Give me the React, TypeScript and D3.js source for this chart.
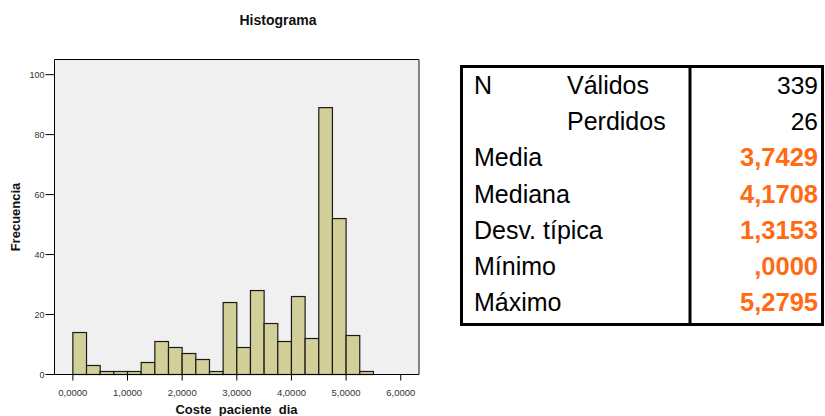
import React from "react";
import * as d3 from "d3";

const binStarts = [0, 0.25, 0.5, 0.75, 1, 1.25, 1.5, 1.75, 2, 2.25, 2.5, 2.75, 3, 3.25, 3.5, 3.75, 4, 4.25, 4.5, 4.75, 5, 5.25];
const frequencies = [14, 3, 1, 1, 1, 4, 11, 9, 7, 5, 1, 24, 9, 28, 17, 11, 26, 12, 89, 52, 13, 1];
const binWidth = 0.25;
const xTicks = [0, 1, 2, 3, 4, 5, 6];
const yTicks = [0, 20, 40, 60, 80, 100];

const statLabels1 = ["N", "", "Media", "Mediana", "Desv. típica", "Mínimo", "Máximo"];
const statLabels2 = ["Válidos", "Perdidos", "", "", "", "", ""];
const statValues = ["339", "26", "3,7429", "4,1708", "1,3153", ",0000", "5,2795"];
const statHighlight = [false, false, true, true, true, true, true];

export default function App() {
  const W = 825, H = 416;
  const left = 54.5, right = 419, top = 59.5, bottom = 374.5;
  const x = d3.scaleLinear().domain([-0.336, 6.334]).range([left, right]);
  const y = d3.scaleLinear().domain([0, 105.05]).range([bottom, top]);
  const fmt = (v: number) => d3.format(".4f")(v).replace(".", ",");

  const rowY = d3.scaleLinear().domain([0, 6]).range([85, 302]);

  return (
    <svg width={W} height={H} style={{ position: "absolute", left: 0, top: 0, fontFamily: "'Liberation Sans', Arial, sans-serif" }}>
      <rect x={0} y={0} width={W} height={H} fill="#fff" />
      <text x={278} y={20} textAnchor="middle" dominantBaseline="central" fontSize={14} fontWeight="bold" fill="#111">Histograma</text>
      <rect x={left} y={top} width={right - left} height={bottom - top} fill="#F0F0F0" stroke="none" />
      {binStarts.map((b, i) => (
        <rect key={i} x={x(b)} y={y(frequencies[i])} width={x(b + binWidth) - x(b)} height={bottom - y(frequencies[i])}
          fill="#D3CF99" stroke="#1a1a1a" strokeWidth={1.2} />
      ))}
      <line x1={left} x2={right} y1={top} y2={top} stroke="#000" strokeWidth={1} />
      <line x1={left} x2={left} y1={top} y2={bottom} stroke="#000" strokeWidth={1} />
      <line x1={right} x2={right} y1={top} y2={bottom} stroke="#666" strokeWidth={1.6} />
      <line x1={left} x2={right} y1={bottom} y2={bottom} stroke="#000" strokeWidth={1} />
      {yTicks.map((t) => (
        <g key={t}>
          <line x1={left - 9} x2={left} y1={y(t)} y2={y(t)} stroke="#000" strokeWidth={1} />
          <text x={left - 10} y={y(t)} textAnchor="end" dominantBaseline="central" fontSize={9} fill="#333">{t}</text>
        </g>
      ))}
      {xTicks.map((t) => (
        <g key={t}>
          <line x1={x(t)} x2={x(t)} y1={bottom} y2={bottom + 6} stroke="#000" strokeWidth={1} />
          <text x={x(t)} y={392} textAnchor="middle" dominantBaseline="central" fontSize={9.5} fill="#333">{fmt(t)}</text>
        </g>
      ))}
      <text x={236.5} y={409} textAnchor="middle" dominantBaseline="central" fontSize={13} fontWeight="bold" fill="#111" style={{ whiteSpace: "pre" }}>{"Coste  paciente  dia"}</text>
      <text transform="translate(15,217) rotate(-90)" textAnchor="middle" dominantBaseline="central" fontSize={13} fontWeight="bold" fill="#111">Frecuencia</text>

      <rect x={461.5} y={66.5} width={361} height={258} fill="none" stroke="#000" strokeWidth={3} />
      <line x1={690} x2={690} y1={66} y2={325} stroke="#000" strokeWidth={3} />
      {statValues.map((v, i) => (
        <g key={i}>
          {statLabels1[i] && <text x={474} y={rowY(i)} dominantBaseline="central" fontSize={25} fill="#000">{statLabels1[i]}</text>}
          {statLabels2[i] && <text x={567} y={rowY(i)} dominantBaseline="central" fontSize={25} fill="#000">{statLabels2[i]}</text>}
          <text x={818} y={rowY(i)} textAnchor="end" dominantBaseline="central" fontSize={statHighlight[i] ? 25.5 : 24.5}
            fontWeight={statHighlight[i] ? "bold" : "normal"} fill={statHighlight[i] ? "#FF6B14" : "#000"}>{v}</text>
        </g>
      ))}
    </svg>
  );
}
